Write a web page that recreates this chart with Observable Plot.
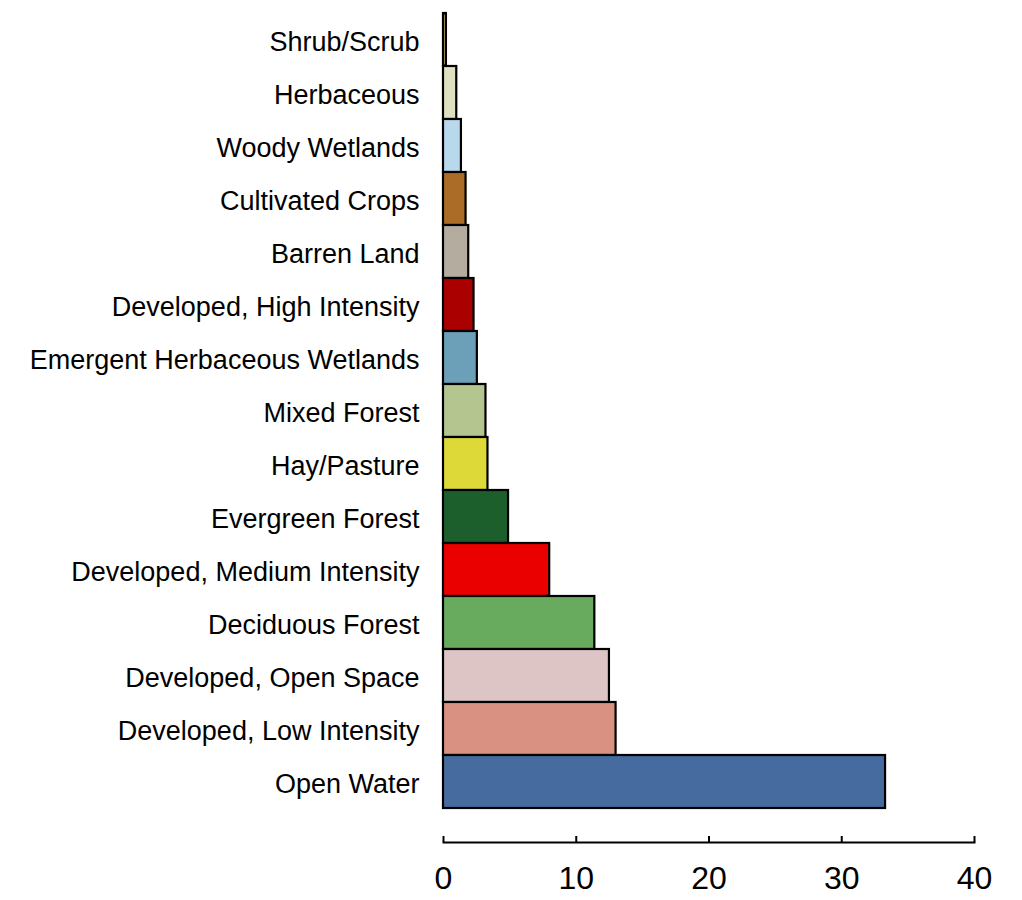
<!DOCTYPE html>
<html>
<head>
<meta charset="utf-8">
<script src="https://cdn.jsdelivr.net/npm/d3@7"></script>
<script src="https://cdn.jsdelivr.net/npm/@observablehq/plot@0.6"></script>
<style>
  body { margin: 0; background: #fff; }
  #chart svg { display: block; }
</style>
</head>
<body>
<div id="chart"></div>
<script>
const categories = [
  "Shrub/Scrub", "Herbaceous", "Woody Wetlands", "Cultivated Crops", "Barren Land",
  "Developed, High Intensity", "Emergent Herbaceous Wetlands", "Mixed Forest",
  "Hay/Pasture", "Evergreen Forest", "Developed, Medium Intensity", "Deciduous Forest",
  "Developed, Open Space", "Developed, Low Intensity", "Open Water"
];
const values = [0.22, 1.0, 1.35, 1.7, 1.9, 2.3, 2.55, 3.2, 3.35, 4.9, 8.0, 11.4, 12.5, 13.0, 33.3];
const colors = [
  "#ccb879", "#dfdfc2", "#b8d9eb", "#ab6c28", "#b3ac9f",
  "#ab0000", "#6c9fb8", "#b5c58f", "#dcd939", "#1c5f2c",
  "#eb0000", "#68ab5f", "#dec5c5", "#d99282", "#466b9f"
];
const xTicks = [0, 10, 20, 30, 40];

const data = categories.map((c, i) => ({category: c, value: values[i], color: colors[i]}));

const chart = Plot.plot({
  width: 1022,
  height: 900,
  marginLeft: 443,
  marginRight: 48,
  marginTop: 10,
  marginBottom: 90,
  style: {fontFamily: "'Liberation Sans', Arial, sans-serif", color: "#000", background: "#fff"},
  x: {domain: [0, 40], axis: null, label: null},
  y: {domain: categories, padding: 0, axis: null, label: null},
  marks: [
    Plot.barX(data, {y: "category", x: "value", fill: "color", stroke: "#000", strokeWidth: 2.2}),
    Plot.axisY({tickSize: 0, tickPadding: 24, fontSize: 27, dy: 2, color: "#000", label: null}),
    Plot.frame({anchor: "bottom", dy: 32, stroke: "#000", strokeWidth: 2}),
    Plot.axisX({ticks: xTicks, tickFormat: d3.format("d"), tickSize: -6, tickPadding: 30, dy: 32, fontSize: 32, stroke: "#000", strokeWidth: 2, color: "#000", label: null})
  ]
});
document.getElementById("chart").appendChild(chart);
</script>
</body>
</html>
